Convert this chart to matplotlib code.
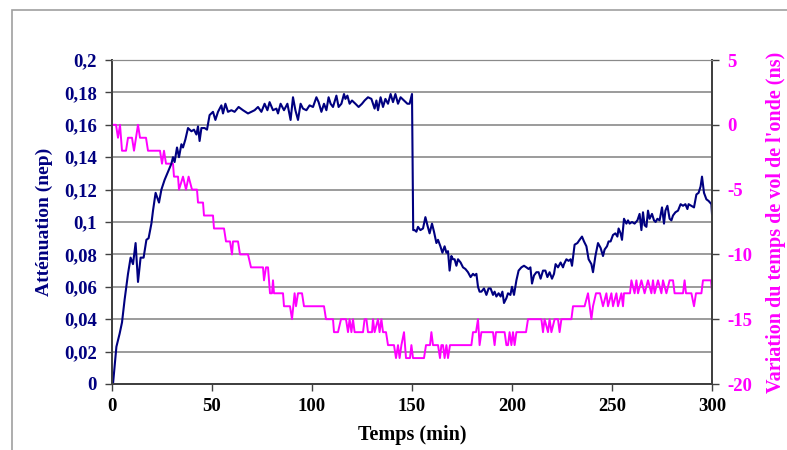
import matplotlib
matplotlib.use('Agg')
from matplotlib import pyplot as plt
from matplotlib.ticker import FuncFormatter
from matplotlib.patches import Rectangle

# Atténuation (nep) : (temps min, valeur)
att_points = [
    (0, 0.0), (0.5, 0.0), (2.2, 0.023), (3.8, 0.031), (5, 0.038), (6.3, 0.052),
    (8, 0.068), (9.3, 0.078), (10.5, 0.074), (11.8, 0.087), (13, 0.063), (14.3, 0.078),
    (15.8, 0.078), (17.2, 0.089), (18.3, 0.090), (19.7, 0.099), (20.5, 0.107),
    (21.8, 0.118), (23.5, 0.112), (24.7, 0.120), (26.3, 0.126), (28, 0.131),
    (29.7, 0.136), (30.5, 0.140), (31.3, 0.137), (32.5, 0.146), (33.5, 0.140),
    (34.7, 0.148), (35.5, 0.146), (36.7, 0.151), (38, 0.158), (39.7, 0.156),
    (41, 0.157), (42.2, 0.154), (43, 0.159), (43.8, 0.150), (44.7, 0.158),
    (46.3, 0.158), (47.5, 0.157), (48.8, 0.166), (50.5, 0.168), (51.7, 0.163),
    (53, 0.168), (54.7, 0.172), (55.5, 0.167), (56.7, 0.173), (58, 0.168),
    (59.7, 0.169), (61.3, 0.168), (63.3, 0.171), (65.5, 0.169), (68, 0.167),
    (69.7, 0.168), (71.3, 0.169), (73, 0.171), (74.7, 0.168), (76.3, 0.173),
    (77.7, 0.169), (78.8, 0.174), (80.5, 0.169), (82.2, 0.170), (83, 0.167),
    (84.3, 0.173), (86, 0.169), (87.7, 0.173), (89.3, 0.163), (90.5, 0.177),
    (91.7, 0.169), (93, 0.163), (94.3, 0.173), (95.5, 0.170), (97.2, 0.169),
    (98.8, 0.172), (100.5, 0.171), (102.2, 0.177), (103.3, 0.174), (104.7, 0.168),
    (106, 0.173), (107.2, 0.169), (108.3, 0.177), (109.3, 0.173), (110.5, 0.171),
    (112.2, 0.178), (113.3, 0.171), (114.7, 0.173), (116, 0.179), (116.7, 0.176),
    (117.7, 0.178), (118.8, 0.173), (120, 0.175), (121.7, 0.173), (123.3, 0.171),
    (125, 0.173), (126.3, 0.175), (128, 0.177), (129.7, 0.176), (131.3, 0.170),
    (132.2, 0.175), (133, 0.169), (134.3, 0.177), (135.5, 0.171), (136.7, 0.176),
    (138, 0.173), (139.3, 0.179), (140.5, 0.174), (141.7, 0.179), (143, 0.173),
    (144.3, 0.177), (146, 0.175), (147.7, 0.173), (148.8, 0.173), (150, 0.179),
    (150.6, 0.095), (151.3, 0.095), (152.2, 0.094), (153, 0.097), (154.2, 0.095),
    (155.5, 0.096), (156.7, 0.103), (157.7, 0.098), (158.8, 0.093), (160, 0.099),
    (161, 0.094), (162.2, 0.087), (163, 0.089), (164.2, 0.085), (165.2, 0.081),
    (166.3, 0.085), (167.2, 0.081), (168, 0.082), (168.8, 0.070), (169.7, 0.079),
    (170.5, 0.077), (171.3, 0.077), (172.2, 0.073), (173, 0.077), (174.3, 0.075),
    (175.5, 0.072), (176.7, 0.071), (178, 0.069), (179.3, 0.066), (180.5, 0.068),
    (181.3, 0.067), (182.2, 0.068), (183, 0.060), (183.8, 0.057), (184.7, 0.057),
    (186, 0.059), (187.2, 0.055), (188.3, 0.059), (189.3, 0.059), (190.5, 0.055),
    (191.3, 0.057), (192.2, 0.054), (193.3, 0.056), (194.3, 0.054), (195.2, 0.057),
    (196, 0.050), (197.2, 0.053), (198, 0.056), (199.2, 0.055), (200, 0.060),
    (201, 0.055), (202.2, 0.064), (203.3, 0.070), (204.7, 0.072), (206, 0.073),
    (207.2, 0.072), (208.3, 0.071), (209.2, 0.072), (210, 0.062), (211, 0.067),
    (212.2, 0.069), (213.3, 0.069), (214.3, 0.065), (215.5, 0.070), (216.7, 0.070),
    (217.7, 0.066), (218.8, 0.069), (220, 0.065), (221, 0.068), (221.8, 0.074),
    (223, 0.072), (224.3, 0.075), (225.5, 0.072), (226, 0.074), (227.2, 0.077),
    (228.3, 0.076), (229.3, 0.077), (230, 0.073), (231.3, 0.086), (232.7, 0.087),
    (233.8, 0.089), (235, 0.091), (236, 0.088), (237.2, 0.085), (238.3, 0.077),
    (239.7, 0.074), (240.5, 0.069), (241.7, 0.079), (243, 0.087), (244.3, 0.084),
    (245.5, 0.079), (246.3, 0.083), (247.5, 0.085), (248.3, 0.088), (249.3, 0.088),
    (250.5, 0.092), (251.7, 0.093), (252.7, 0.091), (253.3, 0.096), (254.3, 0.093),
    (255, 0.089), (256, 0.102), (257.2, 0.099), (258, 0.101), (258.8, 0.099),
    (260, 0.100), (261.3, 0.099), (262.7, 0.101), (263.8, 0.105), (264.7, 0.095),
    (265.5, 0.106), (266.3, 0.098), (267.2, 0.097), (268, 0.107), (268.8, 0.102),
    (270, 0.105), (271, 0.101), (271.8, 0.100), (272.7, 0.102), (273.8, 0.101),
    (275, 0.109), (276, 0.099), (276.7, 0.107), (277.7, 0.110), (278.8, 0.102),
    (279.7, 0.101), (280.5, 0.104), (281.7, 0.106), (283, 0.107), (284.3, 0.111),
    (285.5, 0.110), (286.7, 0.111), (287.7, 0.108), (288.3, 0.111), (289.7, 0.110),
    (291, 0.109), (292.2, 0.117), (293.3, 0.118), (294.3, 0.122), (295, 0.128),
    (296, 0.118), (297.2, 0.114), (298.3, 0.113), (299.7, 0.111), (300, 0.105),
]

# Variation du temps de vol de l'onde (ns) : (temps min, valeur)
var_points = [
    (0, 0), (2, 0), (3, -1), (4, 0), (5, -2), (7, -2), (8, -1), (10, -1), (11, -2),
    (12, -1), (13, 0), (14, -1), (17, -1), (18, -2), (24, -2), (25, -3), (26, -2),
    (27, -3), (30.5, -3), (31, -4), (33, -4), (33.5, -5), (35.5, -4), (37, -5),
    (38.3, -4), (40, -5), (42.5, -5), (43, -6), (45.5, -6), (46, -7), (50.5, -7),
    (51, -8), (56, -8), (57, -9), (59, -9), (60, -10), (60.5, -9), (63, -9),
    (64, -10), (68, -10), (69.5, -11), (75.5, -11), (76, -12), (77, -11), (78, -11),
    (79, -13), (80, -13), (80.5, -12), (81, -13), (85.5, -13), (86, -14), (89, -14),
    (90, -15), (91.3, -13), (92, -14), (93, -13), (95, -13), (96, -14), (106, -14),
    (107, -15), (110.5, -15), (111, -16), (113, -16), (114.5, -15), (117, -15),
    (118, -16), (118.8, -15), (119.7, -16), (120.5, -15), (121.3, -16), (125.5, -16),
    (126.3, -15), (127.2, -15), (128, -16), (130, -16), (130.5, -15), (131.3, -16),
    (133, -15), (133.8, -16), (134.7, -15), (135.5, -16), (137, -16), (138, -17),
    (141, -17), (142, -18), (143, -17), (143.8, -18), (144.7, -17), (146, -16),
    (147, -18), (149, -18), (149.7, -17), (150.5, -18), (156, -18), (157, -17),
    (159, -17), (159.7, -16), (160.5, -17), (163, -17), (164, -18), (164.7, -17),
    (165.5, -17), (166.3, -18), (167.2, -17), (168, -18), (169, -17), (179.7, -17),
    (180.5, -16), (182, -16), (183, -15), (183.8, -17), (184.7, -16), (190.5, -16),
    (191.3, -17), (192, -16), (196.3, -16), (197.2, -17), (198, -17), (198.8, -16),
    (199.7, -17), (200.5, -16), (201.3, -17), (202.2, -16), (205, -16), (207, -16),
    (208, -15), (214.7, -15), (215.5, -16), (216.3, -15), (218, -16), (218.8, -15),
    (219.7, -16), (221.3, -15), (223, -15), (223.8, -16), (224.7, -15), (229.7, -15),
    (230.5, -14), (236.3, -14), (238, -13), (239.7, -15), (240.5, -14), (242, -13),
    (244, -13), (245.5, -14), (247.2, -13), (248, -14), (249.7, -13), (250.5, -14),
    (252.2, -13), (253, -14), (254.7, -13), (255.5, -14), (256, -13), (259, -13),
    (259.7, -12), (261.3, -13), (262.2, -12), (263, -13), (264.7, -12), (266.3, -13),
    (268, -12), (269.7, -13), (270.5, -12), (271.3, -13), (273, -12), (274.7, -13),
    (275.5, -12), (277.2, -13), (278.8, -12), (280.5, -12), (281.3, -13),
    (285.5, -13), (286.3, -12), (287, -13), (289.7, -13), (291, -14), (292, -13),
    (294.7, -13), (295.5, -12), (299.5, -12), (300, -12.8),
]

t_att = [p[0] for p in att_points]
att = [p[1] for p in att_points]
t_var = [p[0] for p in var_points]
var = [p[1] for p in var_points]

x_ticks = [0, 50, 100, 150, 200, 250, 300]
left_ticks = [0, 0.02, 0.04, 0.06, 0.08, 0.1, 0.12, 0.14, 0.16, 0.18, 0.2]
right_ticks = [-20, -15, -10, -5, 0, 5]

navy = '#000080'
magenta = '#ff00ff'

plt.rcParams['font.family'] = ['Liberation Serif', 'DejaVu Serif']
plt.rcParams['font.weight'] = 'bold'
plt.rcParams['axes.unicode_minus'] = False

fig = plt.figure(figsize=(7.87, 4.5), dpi=100)
top = 1 - 10 / 450
fig.patches.append(Rectangle((12 / 787, -0.2), 1.2, top + 0.2,
                             transform=fig.transFigure, fill=False,
                             edgecolor='#a0a0a0', linewidth=1.2))
ax = fig.add_axes([112 / 787, 1 - 384 / 450, 600 / 787, 324 / 450])
ax2 = ax.twinx()

ax.set_zorder(1)
ax.patch.set_visible(False)
ax2.plot(t_var, var, color=magenta, linewidth=1.4)
ax.plot(t_att, att, color=navy, linewidth=1.5)

ax.set_xlim(0, 300)
ax.set_ylim(0, 0.2)
ax2.set_ylim(-20, 5)
ax.set_xticks(x_ticks)
ax.set_yticks(left_ticks)
ax2.set_yticks(right_ticks)


def comma(v, pos):
    s = f'{v:.2f}'.rstrip('0').rstrip('.')
    return s.replace('.', ',')


ax.yaxis.set_major_formatter(FuncFormatter(comma))
ax2.grid(False)
for y in left_ticks:
    ax2.axhline(-20 + y * 125, color='#8a8a8a', linewidth=1.2, zorder=0)

for a in (ax, ax2):
    for side in ('left', 'bottom', 'right'):
        a.spines[side].set_color('#404040')
        a.spines[side].set_linewidth(1.3)
    a.spines['top'].set_color('#8a8a8a')

ax.tick_params(axis='y', colors=navy, labelsize=13.5, length=5, width=1, pad=6)
ax.tick_params(axis='y', color='#404040')
ax.tick_params(axis='x', labelsize=13.5, length=5, width=1, color='#404040', pad=5)
ax2.tick_params(axis='y', labelcolor=magenta, labelsize=13.5, length=5, width=1,
                color='#404040', pad=6)

ax.set_xlabel('Temps (min)', fontsize=14.5, fontweight='bold', labelpad=7)
ax.set_ylabel('Atténuation (nep)', fontsize=14, fontweight='bold', color=navy,
              labelpad=8)
ax2.set_ylabel("Variation du temps de vol de l'onde (ns)", fontsize=14.5,
               fontweight='bold', color=magenta, labelpad=10)

fig.savefig('out.png', dpi=100)
